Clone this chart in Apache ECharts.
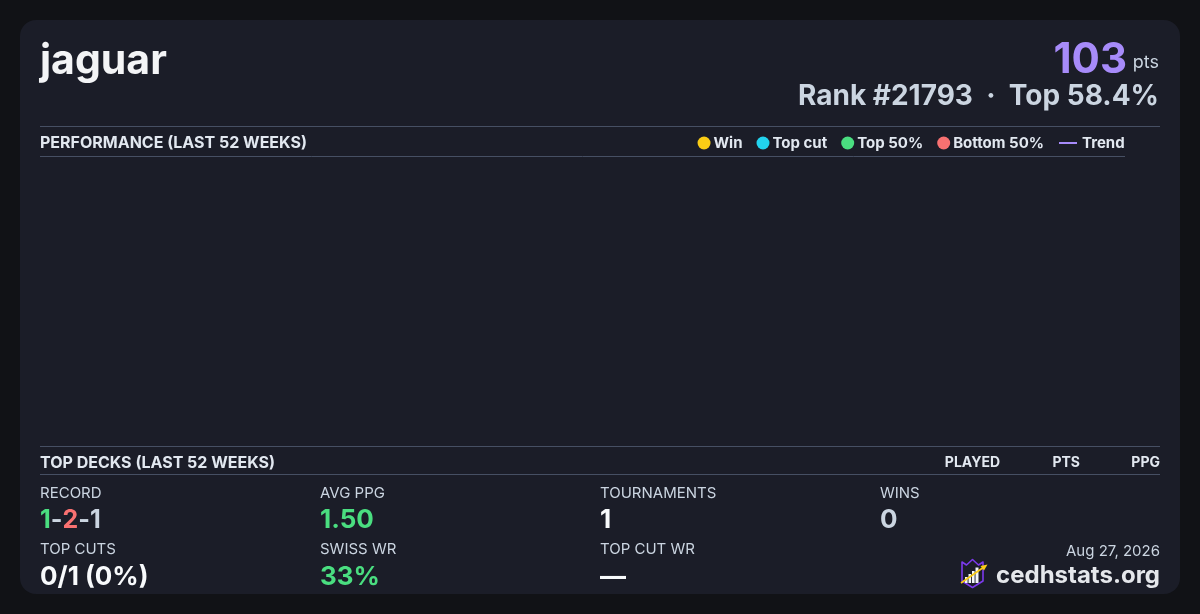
<!DOCTYPE html>
<html>
<head>
<meta charset="utf-8">
<script src="https://cdn.jsdelivr.net/npm/echarts@6/dist/echarts.min.js"></script>
<style>
html,body{margin:0;padding:0;background:#111216;}
#c{width:1200px;height:614px;}
</style>
</head>
<body>
<div id="c"></div>
<script>
// ---- data ----
const playerName = 'jaguar';
const points = 103;
const rankText = 'Rank #21793  ·  Top 58.4%';
const legendNames = ['Win', 'Top cut', 'Top 50%', 'Bottom 50%'];
const legendColors = ['#facc15', '#22d3ee', '#4ade80', '#f87171'];
const trendName = 'Trend';
const weeks = [];            // last 52 weeks: no results recorded
const winData = [];
const topCutData = [];
const top50Data = [];
const bottom50Data = [];
const trendData = [];
const deckHeaders = ['PLAYED', 'PTS', 'PPG'];
const statLabelsRow1 = ['RECORD', 'AVG PPG', 'TOURNAMENTS', 'WINS'];
const statLabelsRow2 = ['TOP CUTS', 'SWISS WR', 'TOP CUT WR'];
const recordParts = ['1', '2', '1'];
const avgPpg = '1.50';
const tournaments = '1';
const wins = '0';
const topCuts = '0/1 (0%)';
const swissWr = '33%';
const topCutWr = '—';
const dateText = 'Aug 27, 2026';
const siteText = 'cedhstats.org';

const FONT = 'Inter, "Noto Sans", sans-serif';
const chart = echarts.init(document.getElementById('c'), null, {renderer: 'canvas'});

function txt(x, y, text, size, color, weight, align) {
  return {type: 'text', x: x, y: y, silent: true,
    style: {text: text, fontFamily: FONT, fontSize: size, fontWeight: weight || 'normal',
      fill: color, align: align || 'left', verticalAlign: 'middle'}};
}
function hline(y, x1, x2) {
  return {type: 'line', silent: true, shape: {x1: x1, y1: y, x2: x2, y2: y},
    style: {stroke: '#464f63', lineWidth: 1}};
}

const colX = [40, 320, 600, 880];
const g = [];
// card
g.push({type: 'rect', shape: {x: 20, y: 20, width: 1160, height: 574, r: 16}, style: {fill: '#1b1d28'}, z: -10, silent: true});
g.push(txt(40, 62, playerName, 41, '#f3f4f6', 'bold'));
g.push(txt(1127, 60, String(points), 42, '#a78bfa', 'bold', 'right'));
g.push(txt(1159, 63, 'pts', 18, '#cbd5e1', 'normal', 'right'));
g.push(txt(1159, 97, rankText, 28, '#cbd5e1', 'bold', 'right'));
g.push(hline(126.5, 40, 1160));
g.push(txt(40, 143, 'PERFORMANCE (LAST 52 WEEKS)', 16, '#e2e8f0', 'bold'));
g.push(hline(156.5, 40, 1125));
g.push(hline(446.5, 40, 1160));
g.push(txt(40, 463, 'TOP DECKS (LAST 52 WEEKS)', 16, '#e2e8f0', 'bold'));
const hdrRight = [1000, 1080, 1160];
deckHeaders.forEach((h, i) => g.push(txt(hdrRight[i], 463, h, 14, '#e2e8f0', 'bold', 'right')));
g.push(hline(474.5, 40, 1160));
statLabelsRow1.forEach((l, i) => g.push(txt(colX[i], 493, l, 15, '#cbd5e1')));
statLabelsRow2.forEach((l, i) => g.push(txt(colX[i], 549, l, 15, '#cbd5e1')));
// record value with coloured parts
g.push({type: 'text', x: 40, y: 520, silent: true, style: {
  text: '{w|' + recordParts[0] + '}{s|-}{l|' + recordParts[1] + '}{s|-}{d|' + recordParts[2] + '}',
  fontFamily: FONT, fontSize: 26, fontWeight: 'bold', verticalAlign: 'middle',
  rich: {
    w: {fill: '#4ade80', fontFamily: FONT, fontSize: 25, fontWeight: 'bold'},
    l: {fill: '#f87171', fontFamily: FONT, fontSize: 25, fontWeight: 'bold'},
    d: {fill: '#cbd5e1', fontFamily: FONT, fontSize: 25, fontWeight: 'bold'},
    s: {fill: '#cbd5e1', fontFamily: FONT, fontSize: 25, fontWeight: 'bold'}
  }}});
g.push(txt(colX[1], 520, avgPpg, 26, '#4ade80', 'bold'));
g.push(txt(colX[2], 520, tournaments, 26, '#f8fafc', 'bold'));
g.push(txt(colX[3], 520, wins, 26, '#cbd5e1', 'bold'));
g.push(txt(colX[0], 577, topCuts, 26, '#f8fafc', 'bold'));
g.push(txt(colX[1], 577, swissWr, 26, '#4ade80', 'bold'));
g.push(txt(colX[2], 577, topCutWr, 26, '#f8fafc', 'bold'));
g.push(txt(1160, 551, dateText, 15, '#cbd5e1', 'normal', 'right'));
g.push(txt(1160, 576, siteText, 24, '#e5e7eb', 'bold', 'right'));
// logo
g.push({type: 'polygon', silent: true,
  shape: {points: [[962,562],[966.5,565],[972.5,559.5],[978.5,565],[983,562],[983,581],[972.5,587.5],[962,581]]},
  style: {stroke: '#7c3aed', lineWidth: 1.6, fill: '#1b1d28', lineJoin: 'round'}});
[[965,577,2.6,6],[968.5,574,2.6,9],[972,571,2.6,12],[975.5,567.5,3,15.5]].forEach(b =>
  g.push({type: 'rect', silent: true, shape: {x: b[0], y: b[1], width: b[2], height: b[3]}, style: {fill: '#f1f5f9'}}));
g.push({type: 'line', silent: true, shape: {x1: 961, y1: 583, x2: 984, y2: 567}, style: {stroke: '#facc15', lineWidth: 1.6}});
g.push({type: 'polygon', silent: true, shape: {points: [[987.5,564.5],[980.5,566],[984,570.5]]}, style: {fill: '#facc15'}});

const option = {
  backgroundColor: '#111216',
  animation: false,
  textStyle: {fontFamily: FONT},
  legend: [{
    data: legendNames.map((n, i) => ({name: n, icon: 'circle', itemStyle: {color: legendColors[i], opacity: 1}})),
    right: 156, top: 135.5, padding: 0, itemWidth: 13, itemHeight: 13, itemGap: 14,
    textStyle: {color: '#e2e8f0', fontSize: 15, fontWeight: 'bold', fontFamily: FONT, padding: [0, 0, 0, -2]},
    selectedMode: false
  }, {
    data: [{name: trendName, icon: 'rect', itemStyle: {color: '#a78bfa'}}],
    left: 1059, top: 135.5, padding: 0, itemWidth: 18, itemHeight: 2,
    textStyle: {color: '#e2e8f0', fontSize: 15, fontWeight: 'bold', fontFamily: FONT},
    selectedMode: false
  }],
  grid: {left: 40, right: 40, top: 170, bottom: 180},
  xAxis: {type: 'category', data: weeks, show: false},
  yAxis: {type: 'value', show: false},
  series: [
    {name: legendNames[0], type: 'scatter', data: winData, itemStyle: {color: legendColors[0]}},
    {name: legendNames[1], type: 'scatter', data: topCutData, itemStyle: {color: legendColors[1]}},
    {name: legendNames[2], type: 'scatter', data: top50Data, itemStyle: {color: legendColors[2]}},
    {name: legendNames[3], type: 'scatter', data: bottom50Data, itemStyle: {color: legendColors[3]}},
    {name: trendName, type: 'line', data: trendData, itemStyle: {color: '#a78bfa'}, lineStyle: {color: '#a78bfa'}}
  ],
  graphic: {elements: g}
};
chart.setOption(option);
</script>
</body>
</html>
